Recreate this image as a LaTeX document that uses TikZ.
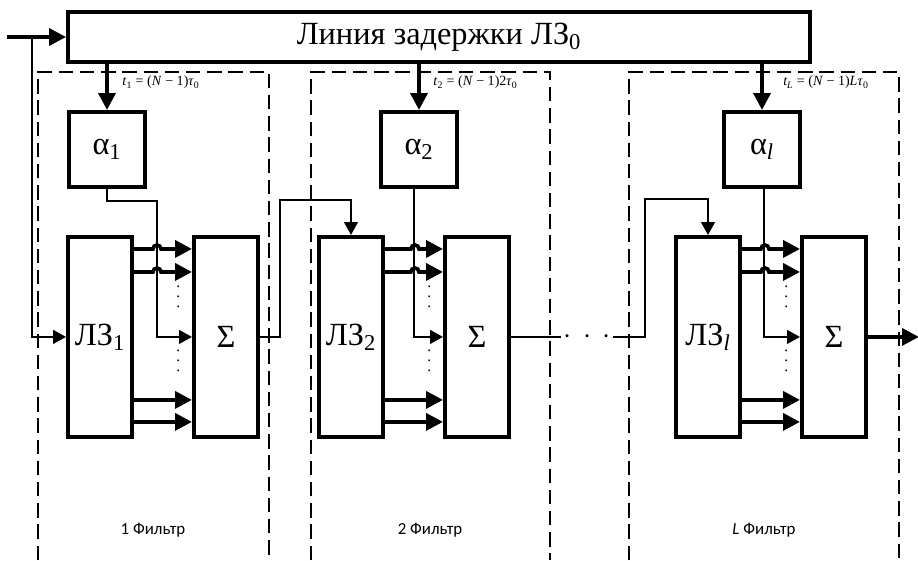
\documentclass[tikz,border=0pt]{standalone}
\usepackage{fontspec}
\setmainfont{Liberation Serif}
\newfontfamily\labelfont{Carlito}
\usepackage{tikz}
\usetikzlibrary{arrows.meta, positioning}
\newcommand{\dotcol}{\vbox{\baselineskip7pt\lineskiplimit0pt\hbox{.}\hbox{.}\hbox{.}}}

\begin{document}
\begin{tikzpicture}[
  box/.style={rectangle, draw=black, line width=2.8pt, fill=white, align=center,
              inner sep=0pt, font=\fontsize{23}{27}\selectfont},
  gainbox/.style={box, minimum width=1.9cm, minimum height=1.875cm},
  tallbox/.style={box, minimum width=1.6cm, minimum height=5cm},
  framedash/.style={dashed, line width=1.4pt, dash pattern=on 0.36cm off 0.17cm},
  tlabel/.style={inner sep=0pt, anchor=north west, font=\fontsize{10}{12}\selectfont},
  filterlabel/.style={inner sep=0pt, font=\labelfont\fontsize{12}{14}\selectfont},
  dotlabel/.style={inner sep=0pt, font=\fontsize{11}{12}\selectfont},
  thickarrow/.style={-{Triangle[length=0.42cm,width=0.42cm]}, line width=2.6pt},
  thinarrow/.style={-{Triangle[length=0.32cm,width=0.34cm]}, line width=1.4pt}
]
\useasboundingbox (0,0) rectangle (22.95,14);

% Filter frames
\draw[framedash] (0.95,0) |- (6.725,12.2) -- (6.725,0);
\draw[framedash] (7.775,0) |- (13.75,12.2) -- (13.75,0);
\draw[framedash] (15.725,0) |- (22.475,12.2) -- (22.475,0);

% Delay line
\node[box, minimum width=18.55cm, minimum height=1.25cm] (delay) at (10.975,13.075)
      {Линия задержки ЛЗ\textsubscript{0}};
\coordinate (input) at (0.175,13.075);
\coordinate (tap) at (0.8,13.075);

% Filter 1
\node[gainbox, below right=1.15cm and 0.025cm of delay.south west] (alpha1)
      {α\textsubscript{1}};
\node[tallbox, below right=4.275cm and 0cm of delay.south west] (lz1)
      {ЛЗ\textsubscript{1}};
\node[tallbox, right=1.45cm of lz1] (sum1) {Σ};

% Filter 2
\node[gainbox, below right=1.15cm and 7.825cm of delay.south west] (alpha2)
      {α\textsubscript{2}};
\node[tallbox, below right=4.275cm and 6.275cm of delay.south west] (lz2)
      {ЛЗ\textsubscript{2}};
\node[tallbox, right=1.45cm of lz2] (sum2) {Σ};

% Filter L
\node[gainbox, below right=1.15cm and 16.4cm of delay.south west] (alphal)
      {α\textsubscript{\textit{l}}};
\node[tallbox, below right=4.275cm and 15.2cm of delay.south west] (lzl)
      {ЛЗ\textsubscript{\textit{l}}};
\node[tallbox, right=1.45cm of lzl] (suml) {Σ};
\coordinate[right=1.275cm of suml] (output);

% Delay labels
\node[tlabel, below right=0.3cm and 1.4cm of delay.south west] (t1)
      {\textit{t}\textsubscript{1} = (\textit{N} − 1)\textit{τ}\textsubscript{0}};
\node[tlabel, below right=0.3cm and 9.175cm of delay.south west] (t2)
      {\textit{t}\textsubscript{2} = (\textit{N} − 1)2\textit{τ}\textsubscript{0}};
\node[tlabel, below right=0.3cm and 17.925cm of delay.south west] (tl)
      {\textit{t\textsubscript{L}} = (\textit{N} − 1)\textit{Lτ}\textsubscript{0}};

% Dots
\node[dotlabel, right=1.05cm of lz1, yshift=1.0cm] (dots1a) {\dotcol};
\node[dotlabel, right=1.05cm of lz1, yshift=-0.6cm] (dots1b) {\dotcol};
\node[dotlabel, right=1.05cm of lz2, yshift=1.0cm] (dots2a) {\dotcol};
\node[dotlabel, right=1.05cm of lz2, yshift=-0.6cm] (dots2b) {\dotcol};
\node[dotlabel, right=1.05cm of lzl, yshift=1.0cm] (dotsla) {\dotcol};
\node[dotlabel, right=1.05cm of lzl, yshift=-0.6cm] (dotslb) {\dotcol};
\node[inner sep=0pt, minimum width=1.3cm, right=1.25cm of sum2,
      font=\fontsize{20}{22}\selectfont] (hdots) {$\cdot\,\cdot\,\cdot$};

% Filter names
\node[filterlabel] (name1) at (3.825,0.75) {1 Фильтр};
\node[filterlabel] (name2) at (10.75,0.75) {2 Фильтр};
\node[filterlabel] (namel) at (19.1,0.75) {\textit{L} Фильтр};

% Arrows
\draw[thickarrow] (input) -- (delay.west);
\draw[thinarrow] (tap) |- (lz1.west);
\draw[thickarrow] (alpha1.north |- delay.south) -- (alpha1.north);
\draw[thickarrow] (alpha2.north |- delay.south) -- (alpha2.north);
\draw[thickarrow] (alphal.north |- delay.south) -- (alphal.north);

% Taps, filter 1
\draw[thinarrow] (alpha1.south) -- ++(0,-0.3cm) -- ++(1.25cm,0) |- (sum1.west);
\draw[thickarrow] ([yshift=-0.35cm]lz1.north east) -- ++(0.475cm,0)
      arc[start angle=180, end angle=0, radius=0.1cm] -- ([yshift=-0.35cm]sum1.north west);
\draw[thickarrow] ([yshift=-0.925cm]lz1.north east) -- ++(0.475cm,0)
      arc[start angle=180, end angle=0, radius=0.1cm] -- ([yshift=-0.925cm]sum1.north west);
\draw[thickarrow] ([yshift=0.975cm]lz1.south east) -- ([yshift=0.975cm]sum1.south west);
\draw[thickarrow] ([yshift=0.425cm]lz1.south east) -- ([yshift=0.425cm]sum1.south west);

% Taps, filter 2
\draw[thinarrow] ([xshift=-0.125cm]alpha2.south) |- (sum2.west);
\draw[thickarrow] ([yshift=-0.35cm]lz2.north east) -- ++(0.65cm,0)
      arc[start angle=180, end angle=0, radius=0.1cm] -- ([yshift=-0.35cm]sum2.north west);
\draw[thickarrow] ([yshift=-0.925cm]lz2.north east) -- ++(0.65cm,0)
      arc[start angle=180, end angle=0, radius=0.1cm] -- ([yshift=-0.925cm]sum2.north west);
\draw[thickarrow] ([yshift=0.975cm]lz2.south east) -- ([yshift=0.975cm]sum2.south west);
\draw[thickarrow] ([yshift=0.425cm]lz2.south east) -- ([yshift=0.425cm]sum2.south west);

% Taps, filter L
\draw[thinarrow] ([xshift=0.06cm]alphal.south) |- (suml.west);
\draw[thickarrow] ([yshift=-0.35cm]lzl.north east) -- ++(0.475cm,0)
      arc[start angle=180, end angle=0, radius=0.1cm] -- ([yshift=-0.35cm]suml.north west);
\draw[thickarrow] ([yshift=-0.925cm]lzl.north east) -- ++(0.475cm,0)
      arc[start angle=180, end angle=0, radius=0.1cm] -- ([yshift=-0.925cm]suml.north west);
\draw[thickarrow] ([yshift=0.975cm]lzl.south east) -- ([yshift=0.975cm]suml.south west);
\draw[thickarrow] ([yshift=0.425cm]lzl.south east) -- ([yshift=0.425cm]suml.south west);

% Links between filters
\draw[thinarrow] (sum1.east) -- ++(0.5cm,0) |- ([yshift=0.875cm]lz2.north) -- (lz2.north);
\draw[line width=1.4pt] (sum2.east) -- (hdots.west);
\draw[thinarrow] (hdots.east) -- ++(0.8cm,0) |- ([yshift=0.9cm]lzl.north) -- (lzl.north);
\draw[thickarrow] (suml.east) -- (output);
\end{tikzpicture}
\end{document}
